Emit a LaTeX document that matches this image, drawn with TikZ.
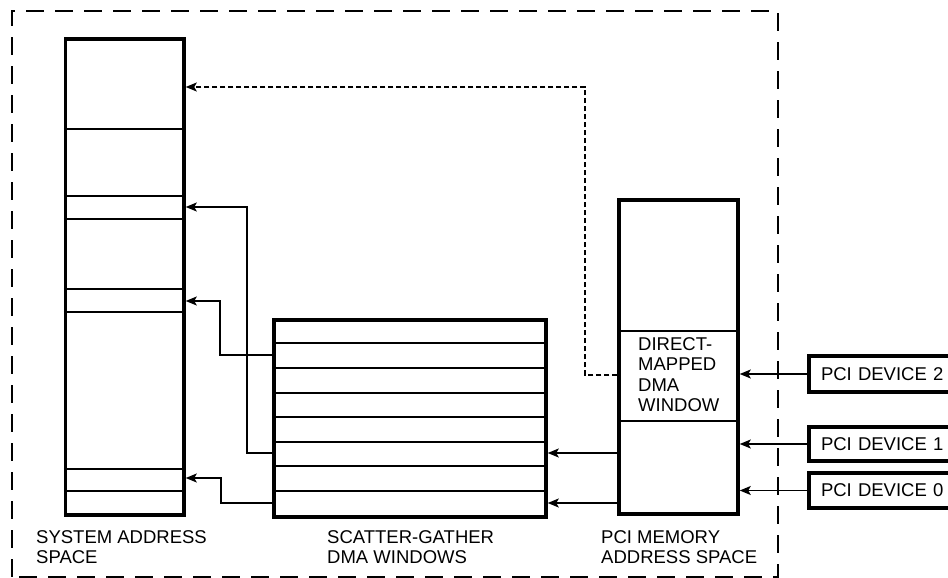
\documentclass[tikz,border=0pt]{standalone}
\usepackage{fontspec}
\setmainfont{Liberation Sans}
\usetikzlibrary{arrows.meta}
\begin{document}
\begin{tikzpicture}[x=1pt,y=-1pt,
  every node/.style={font=\fontsize{18.5}{20.5}\selectfont},
  membox/.style={draw, line width=3.5pt, inner sep=0pt, minimum width=#1},
  divider/.style={line width=1.8pt},
  conn/.style={line width=1.5pt, -{Stealth[length=11pt,width=9pt,inset=2.5pt]}},
  dashconn/.style={conn, dash pattern=on 5pt off 3pt},
  frame/.style={line width=1.6pt, dash pattern=on 18pt off 11pt},
  lbl/.style={anchor=north west, inner sep=0pt, align=left},
  devbox/.style={draw, line width=3.5pt, minimum width=180pt, minimum height=#1,
    text width=156pt, align=left, inner xsep=12pt, inner ysep=0pt}
]
\useasboundingbox (0,0) rectangle (948,578);
\clip (0,0) rectangle (948,578);

% outer dashed frame
\draw[frame] (12,576.8) -- (12,11) -- (778,11) -- (778,576.8) -- cycle;

% system address space
\node[membox=118.5pt, minimum height=476pt] (sys) at (124.75,277) {};
\foreach \yy in {129,196,219,289,312,469,491}
  \draw[divider] (sys.west |- 0,\yy) -- (sys.east |- 0,\yy);

% scatter-gather windows
\node[membox=272pt, minimum height=197pt] (sg) at (410,418.5) {};
\foreach \yy in {343,368,393,417,442,466,491}
  \draw[divider] (sg.west |- 0,\yy) -- (sg.east |- 0,\yy);

% PCI memory address space
\node[membox=119pt, minimum height=314pt] (pci) at (678.5,357) {};
\foreach \yy in {331,421}
  \draw[divider] (pci.west |- 0,\yy) -- (pci.east |- 0,\yy);
\node[lbl] (dmw) at (638,337) {DIRECT-\\MAPPED\\DMA\\WINDOW};

% PCI devices
\node[devbox=36pt] (dev2) at (899,374) {PCI DEVICE 2};
\node[devbox=34pt] (dev1) at (899,444) {PCI DEVICE 1};
\node[devbox=35pt] (dev0) at (899,490.5) {PCI DEVICE 0};

% labels
\node[lbl] (lsys) at (36,530) {SYSTEM ADDRESS\\SPACE};
\node[lbl] (lsg) at (327,530) {SCATTER-GATHER\\DMA WINDOWS};
\node[lbl] (lpci) at (601,530) {PCI MEMORY\\ADDRESS SPACE};

% connectors
\draw[dashconn] (pci.west |- 0,375) -| (585,87) -- (sys.east |- 0,87);
\draw[conn] (sg.west |- 0,355) -| (220,301) -- (sys.east |- 0,301);
\draw[conn] (sg.west |- 0,453) -| (247,207) -- (sys.east |- 0,207);
\draw[conn] (sg.west |- 0,503) -| (221,478) -- (sys.east |- 0,478);
\draw[conn] (pci.west |- 0,453) -- (sg.east |- 0,453);
\draw[conn] (pci.west |- 0,503) -- (sg.east |- 0,503);
\draw[conn] (dev2.west) -- (pci.east |- dev2.west);
\draw[conn] (dev1.west) -- (pci.east |- dev1.west);
\draw[conn] (dev0.west) -- (pci.east |- dev0.west);
\end{tikzpicture}
\end{document}
